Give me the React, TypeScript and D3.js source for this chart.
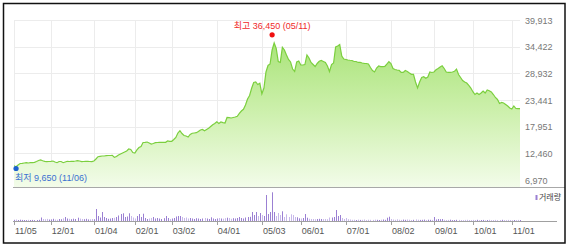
import React from "react";
import * as d3 from "d3";

const prices: number[] = [
  9900, 9700, 10060, 10370, 10410, 10470, 10530, 10470, 10530, 10530,
  10610, 10780, 10980, 11090, 10930, 10820, 10740, 10780, 10820, 10880,
  10680, 10530, 10780, 10780, 10530, 10680, 10820, 10780, 10820, 10820,
  10880, 10950, 10880, 10740, 10780, 10820, 10820, 10780, 10740, 10880,
  11290, 11770, 11850, 11910, 11910, 11970, 12010, 12010, 12060, 11640,
  11810, 12120, 12320, 12530, 12740, 12940, 13350, 13250, 12630, 12530,
  13150, 13660, 13870, 14690, 14730, 14790, 14590, 14380, 14490, 14650,
  14690, 14730, 14730, 14730, 14730, 15000, 14940, 14940, 15310, 15720,
  16650, 17120, 16540, 16130, 16030, 15820, 16340, 16590, 16650, 16710,
  16960, 17270, 17370, 17120, 17370, 17610, 17980, 18340, 18600, 18970,
  18600, 18910, 18770, 18710, 19840, 19800, 19740, 19840, 19940, 20090,
  20700, 21180, 21530, 22410, 23650, 24370, 25850, 27050, 27150, 26630,
  26880, 24680, 25910, 29210, 30550, 30850, 33740, 35180, 34050, 31370,
  31200, 34290, 33740, 32710, 31780, 31270, 29820, 29310, 31270, 31470,
  30650, 30650, 30750, 32710, 32090, 31170, 30750, 30340, 30960, 31410,
  31570, 31370, 31170, 30440, 29310, 30750, 31060, 34360, 34560, 34870,
  32500, 31880, 31780, 31680, 31620, 31570, 31370, 31370, 31170, 31170,
  31060, 31000, 30960, 30850, 30130, 29510, 29210, 30030, 30440, 30300,
  30300, 30340, 30850, 31330, 30960, 29930, 29720, 29620, 29560, 29110,
  29110, 29510, 29310, 29000, 28730, 28730, 27150, 25910, 27150, 28070,
  28240, 27910, 28180, 29210, 29110, 29210, 29660, 29930, 30240, 30480,
  29930, 29210, 29150, 29150, 29210, 29350, 29820, 28690, 28070, 27460,
  27150, 26940, 26430, 25910, 25150, 24570, 24880, 24570, 24880, 25300,
  24880, 25500, 25360, 25090, 24570, 23960, 23550, 22720, 22930, 22820,
  22510, 22210, 21800, 21590, 22210, 21690, 21650, 21650,
];

const volumes: number[] = [
  120, 150, 100, 130, 110, 100, 90, 120, 100, 110, 90, 100, 120,
  350, 200, 180, 210, 150, 160, 220, 150, 130, 200,
  180, 260, 400, 250, 220, 180, 230, 200, 330, 240,
  200, 180, 220, 160, 170, 200, 180,
  1200, 500, 350, 900, 400, 300, 220, 250, 300, 320,
  400, 550, 700, 770, 400, 450, 770, 500, 350, 250,
  500, 700, 400, 730, 300, 200, 250, 300, 400, 250,
  300, 250, 200, 280, 500, 300, 200, 250, 300, 450,
  500, 500, 400, 300, 350, 250, 300, 250, 200, 280,
  250, 200, 250, 300, 250, 200, 370, 250, 200, 250,
  300, 250, 230, 280, 330, 300, 220, 280, 250, 300,
  400, 300, 250, 350, 400, 420, 900, 600, 900, 500,
  800, 600, 500, 2600, 700, 900, 2870, 900, 500, 800,
  600, 970, 400, 670, 400, 670, 600, 400, 370, 270,
  250, 300, 700, 330, 230, 200, 200, 180, 200, 220,
  200, 190, 200, 180, 350, 350, 400, 1100, 500, 600,
  300, 200, 300, 180,
  150, 120, 130, 100, 140, 110, 120, 150, 100, 130, 120, 110, 140, 120, 100, 130, 150, 120,
  330, 430, 200,
  150, 120, 170, 130, 110, 140, 120, 150, 130, 100, 120, 160, 130, 110, 120, 140, 100, 130, 120, 110,
  400,
  150, 200, 180,
  200,
  120, 100, 110, 130, 90, 100, 120, 110, 100, 90,
  110, 120, 100, 90, 110, 100, 120, 90, 100, 110,
  80, 100, 120, 90, 100, 110, 90, 100, 120, 100,
  90, 110, 100, 80, 100, 90, 110, 100,
];

const tickLabels: string[] = ["11/05", "12/01", "01/04", "02/01", "03/02", "04/01", "05/03", "06/01", "07/01", "08/02", "09/01", "10/01", "11/01"];
const tickIndex: number[] = [0, 18, 39, 59, 77, 99, 121, 140, 162, 184, 205, 224, 243];
const yTicks: number[] = [6970, 12460, 17951, 23441, 28932, 34422, 39913];

const maxIndex = 126;
const maxValue = 36450;
const maxLabel = "최고 36,450 (05/11)";
const minIndex = 1;
const minValue = 9650;
const minLabel = "최저 9,650 (11/06)";
const volumeLabel = "거래량";

const FONT = "'Liberation Sans', Arial, 'Noto Sans CJK KR', sans-serif";

export default function App() {
  const W = 568;
  const H = 245;
  const x = d3.scaleLinear().domain([0, prices.length - 1]).range([14, 520]);
  const y = d3.scaleLinear().domain([6970, 39913]).range([180, 20]);
  const vy = d3.scaleLinear().domain([0, 3000]).range([221, 191]);
  const baseY = 187.5;

  const line = d3.line<number>().x((_, i) => x(i)).y((d) => y(d));
  const area = d3.area<number>().x((_, i) => x(i)).y0(baseY).y1((d) => y(d));

  return (
    <svg width={W} height={H} style={{ position: "absolute", left: 0, top: 0, fontFamily: FONT }}>
      <defs>
        <linearGradient id="gfill" gradientUnits="userSpaceOnUse" x1="0" y1="20" x2="0" y2={baseY}>
          <stop offset="0%" stopColor="#9fe06a" />
          <stop offset="55%" stopColor="#cdf0ad" />
          <stop offset="100%" stopColor="#f3fcea" />
        </linearGradient>
      </defs>
      <rect x={0} y={0} width={W} height={H} fill="#fff" />
      {/* grid */}
      {yTicks.map((t) => (
        <line key={"h" + t} x1={14} x2={520} y1={Math.round(y(t)) + 0.5} y2={Math.round(y(t)) + 0.5} stroke="#ececec" />
      ))}
      {tickIndex.map((ti) => (
        <line key={"v" + ti} x1={Math.round(x(ti)) + 0.5} x2={Math.round(x(ti)) + 0.5} y1={20} y2={baseY} stroke="#ececec" />
      ))}
      <path d={area(prices) || ""} fill="url(#gfill)" />
      <path d={line(prices) || ""} fill="none" stroke="#7bcf3e" strokeWidth={1.2} />
      {/* y labels */}
      {yTicks.map((t) => (
        <text key={"yl" + t} x={525} y={y(t) + 3.5} fontSize={9} fill="#777">
          {d3.format(",")(t)}
        </text>
      ))}
      {/* separator */}
      <line x1={13} x2={565} y1={baseY} y2={baseY} stroke="#a8a8a8" />
      {/* volume */}
      {volumes.map((v, i) => (
        <rect
          key={"vb" + i}
          x={Math.round(x(i))}
          y={vy(v)}
          width={1}
          height={221 - vy(v)}
          fill={i > 0 && prices[i] < prices[i - 1] ? "#c7b8ea" : "#9b80d3"}
        />
      ))}
      <line x1={13} x2={557} y1={221.5} y2={221.5} stroke="#a0a0a0" />
      {tickIndex.map((ti, k) => (
        <g key={"xt" + ti}>
          <line x1={Math.round(x(ti)) + 0.5} x2={Math.round(x(ti)) + 0.5} y1={221} y2={225} stroke="#a0a0a0" />
          <text x={x(ti) + 1} y={234} fontSize={9} fill="#555">
            {tickLabels[k]}
          </text>
        </g>
      ))}
      <rect x={535.5} y={195} width={2} height={5} fill="#9b80d3" />
      <text x={539} y={200} fontSize={8} fill="#444">{volumeLabel}</text>
      {/* max / min annotations */}
      <circle cx={x(maxIndex)} cy={y(maxValue) - 2} r={2.6} fill="#f01010" />
      <text x={x(maxIndex)} y={29} fontSize={9} fill="#f02a2a" textAnchor="middle">{maxLabel}</text>
      <circle cx={x(minIndex)} cy={y(minValue) + 1.5} r={2.6} fill="#1c5fd0" />
      <text x={15} y={180.5} fontSize={9} fill="#3a70d0">{minLabel}</text>
      {/* border */}
      <rect x={3.5} y={3.5} width={561.5} height={239.5} fill="none" stroke="#111" strokeWidth={1.5} />
    </svg>
  );
}
